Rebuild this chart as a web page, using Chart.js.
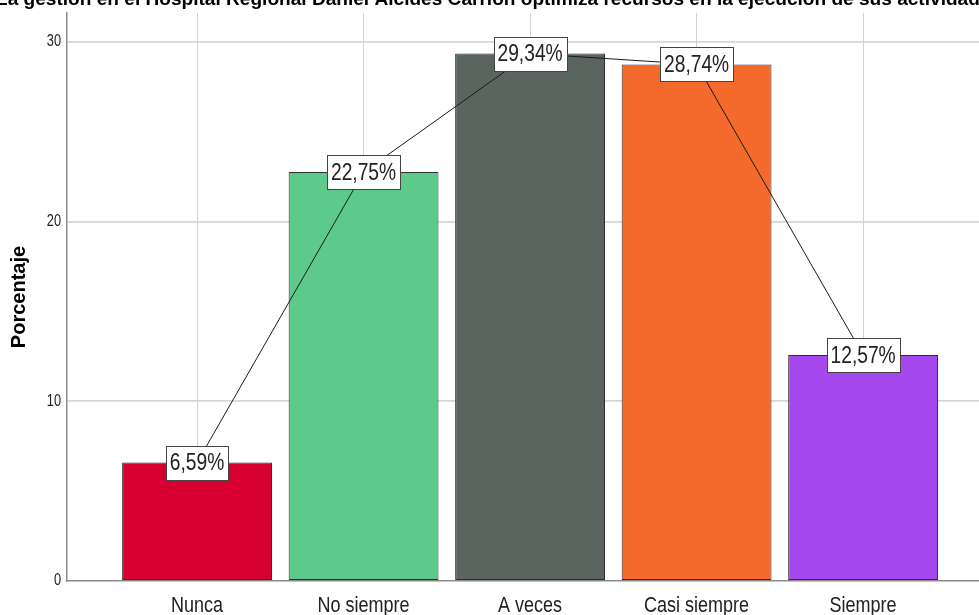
<!DOCTYPE html>
<html>
<head>
<meta charset="utf-8">
<script src="https://cdn.jsdelivr.net/npm/chart.js@4.4.1/dist/chart.umd.min.js"></script>
<style>
html,body{margin:0;padding:0;background:#fff;overflow:hidden;}
#wrap{width:979px;height:615px;position:relative;}
</style>
</head>
<body>
<div id="wrap"><canvas id="c" width="979" height="615"></canvas></div>
<script>
const title = 'La gestión en el Hospital Regional Daniel Alcides Carrión optimiza recursos en la ejecución de sus actividades';
const categories = ['Nunca', 'No siempre', 'A veces', 'Casi siempre', 'Siempre'];
const percentages = [6.59, 22.75, 29.34, 28.74, 12.57];
const valueLabels = ['6,59%', '22,75%', '29,34%', '28,74%', '12,57%'];
const barColors = ['#d70030', '#5dca8c', '#5b6560', '#f36a2c', '#a648f0'];
const yTicks = [0, 10, 20, 30];
const yTitle = 'Porcentaje';

const SANS = '"Liberation Sans", Arial, sans-serif';
const SQUEEZE = 0.8;

const points = percentages.map((v, i) => ({x: i, y: v}));

function narrowText(ctx, txt, x, y, align) {
  ctx.save();
  ctx.translate(x, y);
  ctx.scale(SQUEEZE, 1);
  ctx.textAlign = align;
  ctx.fillText(txt, 0, 0);
  ctx.restore();
}

const titlePlugin = {
  id: 'cutTitle',
  afterDraw(chart) {
    const ctx = chart.ctx;
    ctx.save();
    const visible = 'La gestión en el Hospital Regional Daniel Alcides Carrión optimiza recursos en la ejecución de sus actividad';
    ctx.font = 'bold 15px ' + SANS;
    const w = ctx.measureText(visible).width;
    const size = 15 * 984 / w;
    ctx.font = 'bold ' + size.toFixed(2) + 'px ' + SANS;
    ctx.fillStyle = '#000';
    ctx.textBaseline = 'alphabetic';
    ctx.textAlign = 'left';
    ctx.fillText(title, -4, 5);
    ctx.restore();
  }
};

const tickPlugin = {
  id: 'narrowTicks',
  afterDraw(chart) {
    const ctx = chart.ctx;
    const xs = chart.scales.x, ys = chart.scales.y;
    ctx.save();
    ctx.fillStyle = '#222';
    ctx.textBaseline = 'alphabetic';
    ctx.font = '22.5px ' + SANS;
    categories.forEach((c, i) => {
      narrowText(ctx, c, xs.getPixelForValue(i), 612, 'center');
    });
    ctx.font = '16px ' + SANS;
    ctx.textBaseline = 'middle';
    yTicks.forEach(v => {
      narrowText(ctx, String(v), 61, ys.getPixelForValue(v), 'right');
    });
    ctx.restore();
  }
};

const labelPlugin = {
  id: 'valueBoxes',
  afterDatasetsDraw(chart) {
    const ctx = chart.ctx;
    const meta = chart.getDatasetMeta(1);
    ctx.save();
    ctx.font = '24px ' + SANS;
    ctx.textBaseline = 'middle';
    meta.data.forEach((pt, i) => {
      const txt = valueLabels[i];
      const tw = ctx.measureText(txt).width * SQUEEZE;
      const bw = Math.round(tw + 8), bh = 34;
      const bx = Math.round(pt.x - bw / 2) + 0.5, by = Math.round(pt.y - bh / 2) + 0.5;
      ctx.fillStyle = '#fff';
      ctx.fillRect(bx, by, bw, bh);
      ctx.strokeStyle = '#444';
      ctx.lineWidth = 1;
      ctx.strokeRect(bx, by, bw, bh);
      ctx.fillStyle = '#222';
      narrowText(ctx, txt, pt.x, pt.y + 1, 'center');
    });
    ctx.restore();
  }
};

new Chart(document.getElementById('c'), {
  data: {
    datasets: [
      {
        type: 'bar',
        data: points,
        backgroundColor: barColors,
        borderColor: '#2e2e2e',
        borderWidth: 1,
        borderSkipped: false,
        categoryPercentage: 1.0,
        barPercentage: 0.9,
        order: 2
      },
      {
        type: 'line',
        data: points,
        borderColor: '#1a1a1a',
        borderWidth: 1,
        pointRadius: 0,
        fill: false,
        tension: 0,
        order: 1
      }
    ]
  },
  options: {
    responsive: false,
    animation: false,
    devicePixelRatio: 1,
    layout: {padding: {top: 13, right: 0, left: 0, bottom: 0}},
    plugins: {legend: {display: false}, tooltip: {enabled: false}, title: {display: false}},
    scales: {
      x: {
        type: 'linear',
        offset: false,
        min: -0.781,
        max: 4.696,
        afterFit(s) { s.height = 34; },
        afterBuildTicks(s) { s.ticks = categories.map((c, i) => ({value: i})); },
        ticks: {display: false, stepSize: 1, includeBounds: false, autoSkip: false},
        grid: {offset: false, color: '#d2d2d2', lineWidth: 1, drawTicks: false},
        border: {color: '#8a8a8a', width: 1.5}
      },
      y: {
        min: 0,
        max: 31.6,
        afterFit(s) { s.width = 67; },
        afterBuildTicks(s) { s.ticks = yTicks.map(v => ({value: v})); },
        ticks: {display: false, includeBounds: false},
        grid: {
          color: (c) => c.tick && c.tick.value === 0 ? 'rgba(0,0,0,0)' : '#d6d6d6',
          lineWidth: 1.8,
          drawTicks: false
        },
        border: {color: '#8a8a8a', width: 1.5},
        title: {
          display: true,
          text: yTitle,
          color: '#000',
          font: {family: SANS, size: 20, weight: 'bold'},
          padding: {top: 7, bottom: 0}
        }
      }
    }
  },
  plugins: [labelPlugin, tickPlugin, titlePlugin]
});
</script>
</body>
</html>
